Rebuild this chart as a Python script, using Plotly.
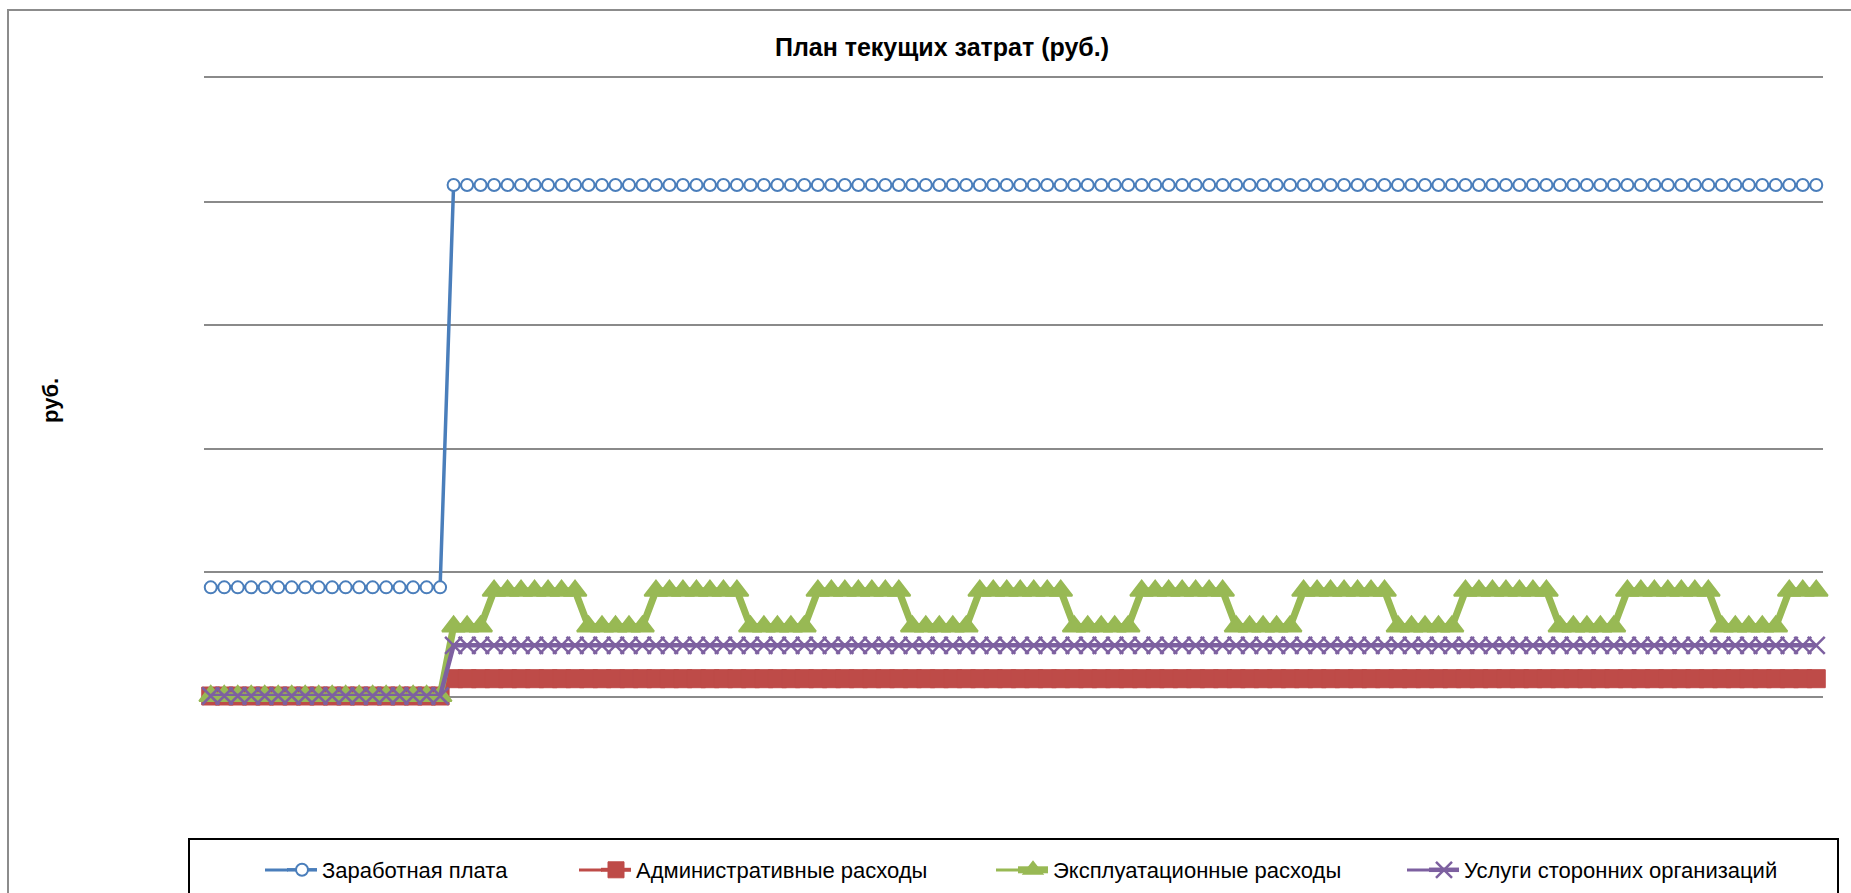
import plotly.graph_objects as go

# ---------------- data (руб.) ----------------
months = list(range(1, 121))

zarplata = [
    87900, 87900, 87900, 87900, 87900, 87900, 87900, 87900, 87900, 87900, 87900, 87900,
    87900, 87900, 87900, 87900, 87900, 87900, 413400, 413400, 413400, 413400, 413400, 413400,
    413400, 413400, 413400, 413400, 413400, 413400, 413400, 413400, 413400, 413400, 413400, 413400,
    413400, 413400, 413400, 413400, 413400, 413400, 413400, 413400, 413400, 413400, 413400, 413400,
    413400, 413400, 413400, 413400, 413400, 413400, 413400, 413400, 413400, 413400, 413400, 413400,
    413400, 413400, 413400, 413400, 413400, 413400, 413400, 413400, 413400, 413400, 413400, 413400,
    413400, 413400, 413400, 413400, 413400, 413400, 413400, 413400, 413400, 413400, 413400, 413400,
    413400, 413400, 413400, 413400, 413400, 413400, 413400, 413400, 413400, 413400, 413400, 413400,
    413400, 413400, 413400, 413400, 413400, 413400, 413400, 413400, 413400, 413400, 413400, 413400,
    413400, 413400, 413400, 413400, 413400, 413400, 413400, 413400, 413400, 413400, 413400, 413400,
]

admin = [
    0, 0, 0, 0, 0, 0, 0, 0, 0, 0, 0, 0,
    0, 0, 0, 0, 0, 0, 14000, 14000, 14000, 14000, 14000, 14000,
    14000, 14000, 14000, 14000, 14000, 14000, 14000, 14000, 14000, 14000, 14000, 14000,
    14000, 14000, 14000, 14000, 14000, 14000, 14000, 14000, 14000, 14000, 14000, 14000,
    14000, 14000, 14000, 14000, 14000, 14000, 14000, 14000, 14000, 14000, 14000, 14000,
    14000, 14000, 14000, 14000, 14000, 14000, 14000, 14000, 14000, 14000, 14000, 14000,
    14000, 14000, 14000, 14000, 14000, 14000, 14000, 14000, 14000, 14000, 14000, 14000,
    14000, 14000, 14000, 14000, 14000, 14000, 14000, 14000, 14000, 14000, 14000, 14000,
    14000, 14000, 14000, 14000, 14000, 14000, 14000, 14000, 14000, 14000, 14000, 14000,
    14000, 14000, 14000, 14000, 14000, 14000, 14000, 14000, 14000, 14000, 14000, 14000,
]

expl = [
    0, 0, 0, 0, 0, 0, 0, 0, 0, 0, 0, 0,
    0, 0, 0, 0, 0, 0, 56300, 56300, 56300, 85200, 85200, 85200,
    85200, 85200, 85200, 85200, 56300, 56300, 56300, 56300, 56300, 85200, 85200, 85200,
    85200, 85200, 85200, 85200, 56300, 56300, 56300, 56300, 56300, 85200, 85200, 85200,
    85200, 85200, 85200, 85200, 56300, 56300, 56300, 56300, 56300, 85200, 85200, 85200,
    85200, 85200, 85200, 85200, 56300, 56300, 56300, 56300, 56300, 85200, 85200, 85200,
    85200, 85200, 85200, 85200, 56300, 56300, 56300, 56300, 56300, 85200, 85200, 85200,
    85200, 85200, 85200, 85200, 56300, 56300, 56300, 56300, 56300, 85200, 85200, 85200,
    85200, 85200, 85200, 85200, 56300, 56300, 56300, 56300, 56300, 85200, 85200, 85200,
    85200, 85200, 85200, 85200, 56300, 56300, 56300, 56300, 56300, 85200, 85200, 85200,
]

uslugi = [
    0, 0, 0, 0, 0, 0, 0, 0, 0, 0, 0, 0,
    0, 0, 0, 0, 0, 0, 41000, 41000, 41000, 41000, 41000, 41000,
    41000, 41000, 41000, 41000, 41000, 41000, 41000, 41000, 41000, 41000, 41000, 41000,
    41000, 41000, 41000, 41000, 41000, 41000, 41000, 41000, 41000, 41000, 41000, 41000,
    41000, 41000, 41000, 41000, 41000, 41000, 41000, 41000, 41000, 41000, 41000, 41000,
    41000, 41000, 41000, 41000, 41000, 41000, 41000, 41000, 41000, 41000, 41000, 41000,
    41000, 41000, 41000, 41000, 41000, 41000, 41000, 41000, 41000, 41000, 41000, 41000,
    41000, 41000, 41000, 41000, 41000, 41000, 41000, 41000, 41000, 41000, 41000, 41000,
    41000, 41000, 41000, 41000, 41000, 41000, 41000, 41000, 41000, 41000, 41000, 41000,
    41000, 41000, 41000, 41000, 41000, 41000, 41000, 41000, 41000, 41000, 41000, 41000,
]

series_names = ["Заработная плата", "Административные расходы",
                "Эксплуатационные расходы", "Услуги сторонних организаций"]
title_text = "План текущих затрат (руб.)"
y_title = "руб."
y_max = 500000
y_step = 100000

# ---------------- layout geometry (px) ----------------
W, H = 1851, 893
L, R, T, B = 204, 28, 78, 197
PW, PH = W - L - R, H - T - B


def px_x(px):
    return (px - L) / PW


def px_y(py):
    return (H - B - py) / PH


FONT = "Liberation Sans, Arial, sans-serif"
BLUE, RED, GREEN, PURPLE = "#4A7EBB", "#BE4B48", "#98B954", "#7D60A0"
COLORS = [BLUE, RED, GREEN, PURPLE]
GRID = "#8A8A8A"

fig = go.Figure()

fig.add_trace(go.Scatter(
    x=months, y=zarplata, name=series_names[0], mode="lines+markers",
    line=dict(color=BLUE, width=3.5), cliponaxis=False,
    marker=dict(symbol="circle", size=12, color="white", line=dict(color=BLUE, width=2)),
    legend="legend",
))
fig.add_trace(go.Scatter(
    x=months, y=admin, name=series_names[1], mode="lines+markers",
    line=dict(color=RED, width=4), cliponaxis=False,
    marker=dict(symbol="square", size=18, color=RED, line=dict(color=RED, width=1)),
    legend="legend2",
))
fig.add_trace(go.Scatter(
    x=months, y=expl, name=series_names[2], mode="lines+markers",
    line=dict(color=GREEN, width=7), cliponaxis=False,
    marker=dict(symbol="triangle-up", size=20, color=GREEN, line=dict(color=GREEN, width=2)),
    legend="legend3",
))
fig.add_trace(go.Scatter(
    x=months, y=uslugi, name=series_names[3], mode="lines+markers",
    line=dict(color=PURPLE, width=4.5), cliponaxis=False,
    marker=dict(symbol="x-thin", size=17, color=PURPLE, line=dict(color=PURPLE, width=2.5)),
    legend="legend4",
))

legend_text_x = [322, 636, 1053, 1464]
legend_y = 870

# outer chart border and legend box
shapes = [
    dict(type="rect", xref="paper", yref="paper",
         x0=px_x(8), x1=px_x(1880), y0=px_y(10), y1=px_y(920),
         line=dict(color="#8C8C8C", width=2), fillcolor="rgba(0,0,0,0)", layer="below"),
    dict(type="rect", xref="paper", yref="paper",
         x0=px_x(189), x1=px_x(1838), y0=px_y(839), y1=px_y(920),
         line=dict(color="black", width=2), fillcolor="rgba(0,0,0,0)", layer="below"),
]
# lengthen the legend key lines (Excel keys are longer than plotly's)
for tx, col in zip(legend_text_x, COLORS):
    shapes.append(dict(type="line", xref="paper", yref="paper",
                       x0=px_x(tx - 57), x1=px_x(tx - 34), y0=px_y(legend_y), y1=px_y(legend_y),
                       line=dict(color=col, width=3), layer="below"))


def leg(text_px):
    return dict(
        x=px_x(text_px - 40), y=px_y(legend_y), xanchor="left", yanchor="middle",
        xref="paper", yref="paper", orientation="h",
        bgcolor="rgba(0,0,0,0)", borderwidth=0,
        font=dict(family=FONT, size=22, color="black"),
        itemsizing="trace",
    )


fig.update_layout(
    width=W, height=H,
    margin=dict(l=L, r=R, t=T, b=B, autoexpand=False),
    paper_bgcolor="white", plot_bgcolor="white",
    font=dict(family=FONT, color="black"),
    title=dict(text="<b>" + title_text + "</b>", x=942 / W, y=1 - 47 / H,
               xanchor="center", yanchor="middle",
               font=dict(family=FONT, size=25, color="black")),
    xaxis=dict(range=[0.5, 120.5], showgrid=False, showticklabels=False,
               ticks="", zeroline=False, showline=True, mirror=True,
               linecolor=GRID, linewidth=2, layer="below traces"),
    yaxis=dict(range=[0, y_max], dtick=y_step, showgrid=True, gridcolor=GRID,
               gridwidth=2, showticklabels=False, ticks="", zeroline=False,
               showline=False, layer="below traces"),
    shapes=shapes,
    showlegend=True,
    legend=leg(legend_text_x[0]),
    legend2=leg(legend_text_x[1]),
    legend3=leg(legend_text_x[2]),
    legend4=leg(legend_text_x[3]),
    annotations=[dict(text="<b>" + y_title + "</b>", textangle=-90,
                      x=px_x(50), y=px_y(401), xref="paper", yref="paper",
                      xanchor="center", yanchor="middle",
                      showarrow=False, font=dict(family=FONT, size=22, color="black"))],
)

fig.write_html(
    "out.html",
    config={"displayModeBar": False},
    post_script="document.body.style.margin='0';document.body.style.overflow='hidden';",
)
